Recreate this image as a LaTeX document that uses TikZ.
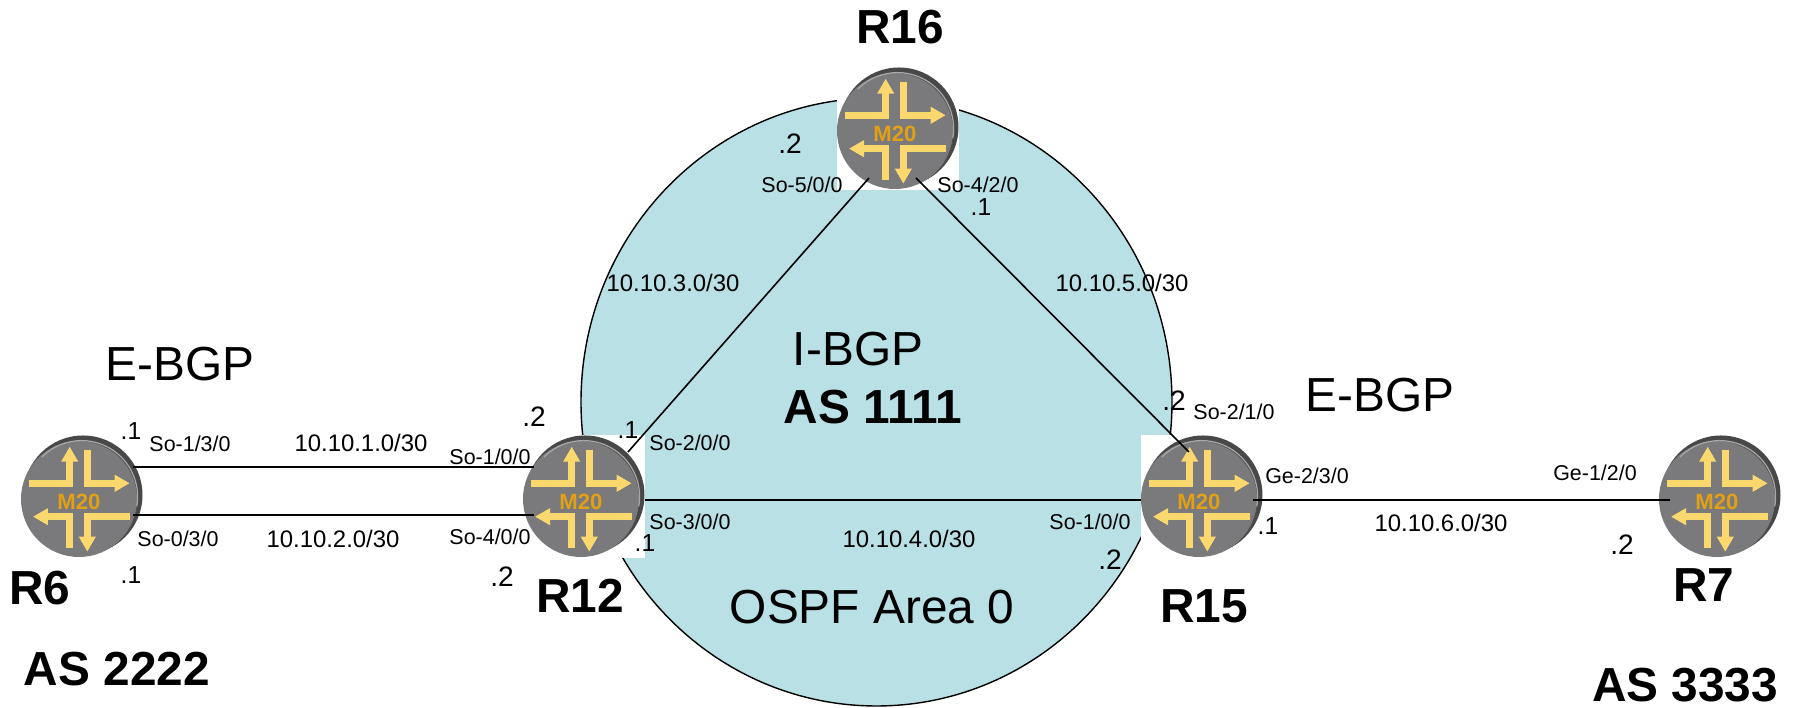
\documentclass[tikz,border=0pt]{standalone}
\usepackage{fontspec}
\setmainfont{Liberation Sans}
\usetikzlibrary{arrows.meta}
\usetikzlibrary{shapes.geometric}

\definecolor{area}{RGB}{185,224,228}
\definecolor{discgray}{RGB}{122,122,124}
\definecolor{discdark}{RGB}{72,72,72}
\definecolor{discrim}{RGB}{168,168,168}
\definecolor{flow}{RGB}{250,216,110}
\definecolor{badge}{RGB}{226,160,20}

\tikzset{
    routerbox/.style={draw=none, fill=white, inner sep=0pt, minimum width=1.22cm, minimum height=1.23cm},
    flowline/.style={line width=0.065cm, color=flow, line join=miter, -{Triangle[length=0.15cm, width=0.16cm]}},
    link/.style={line width=0.016cm, color=black},
    iface/.style={inner sep=0pt, text height=4.4pt, text depth=0pt, font=\fontsize{6.1}{7}\selectfont},
    subnet/.style={inner sep=0pt, text height=4.9pt, text depth=0pt, font=\fontsize{6.8}{8}\selectfont},
    hostone/.style={inner sep=0pt, text height=5pt, text depth=0pt, font=\fontsize{7}{8}\selectfont},
    hosttwo/.style={inner sep=0pt, text height=5.7pt, text depth=0pt, font=\fontsize{8}{9}\selectfont},
    proto/.style={inner sep=0pt, text height=9.7pt, text depth=0pt, font=\fontsize{13.6}{15}\selectfont},
    tagname/.style={inner sep=0pt, text height=9.7pt, text depth=0pt, font=\fontsize{13.6}{15}\selectfont\bfseries},
    pics/m20/.style={code={
        \fill[discdark] (0.01, 0.02) circle (0.595);
        \fill[discgray] (-0.03, -0.02) circle (0.58);
        \draw[line width=0.012cm, color=discrim] (-0.40, 0.40) arc (135:-10:0.56);
        \draw[flowline] (-0.533, 0.137) -- (-0.123, 0.137) -- (-0.123, 0.503);
        \draw[flowline] (0.053, 0.47) -- (0.053, 0.137) -- (0.477, 0.137);
        \draw[flowline] (-0.123, -0.513) -- (-0.123, -0.197) -- (-0.49, -0.197);
        \draw[flowline] (0.477, -0.197) -- (0.053, -0.197) -- (0.053, -0.547);
        \node[inner sep=0pt, color=badge, font=\fontsize{6.3}{7}\selectfont\bfseries] (-badge) at (-0.03, -0.05) {M20};
    }},
}

\begin{document}
\begin{tikzpicture}
    \useasboundingbox (0, 0) rectangle (17.94, 7.08);

    \node[ellipse, draw, fill=area, line width=0.014cm, inner sep=0pt, minimum width=5.91cm, minimum height=6.08cm] (ospf) at (8.765, 3.06) {};

    \node[routerbox] (R6) at (0.82, 2.11) {};
    \node[routerbox] (R12) at (5.84, 2.11) {};
    \node[routerbox] (R15) at (12.02, 2.11) {};
    \node[routerbox] (R7) at (17.20, 2.11) {};
    \node[routerbox] (R16) at (8.98, 5.79) {};
    \pic (R6i) at (R6) {m20};
    \pic (R12i) at (R12) {m20};
    \pic (R15i) at (R15) {m20};
    \pic (R7i) at (R7) {m20};
    \pic (R16i) at (R16) {m20};

    \draw[link] ([shift={(0.51, 0.30)}]R6.center) -- ([shift={(-0.50, 0.30)}]R12.center);
    \draw[link] ([shift={(0.51, -0.18)}]R6.center) -- ([shift={(-0.50, -0.18)}]R12.center);
    \draw[link] ([shift={(0.61, -0.03)}]R12.center) -- ([shift={(-0.61, -0.03)}]R15.center);
    \draw[link] ([shift={(0.51, -0.03)}]R15.center) -- ([shift={(-0.50, -0.03)}]R7.center);
    \draw[link] ([shift={(0.44, 0.45)}]R12.center) -- ([shift={(-0.29, -0.49)}]R16.center);
    \draw[link] ([shift={(0.18, -0.49)}]R16.center) -- ([shift={(-0.13, 0.45)}]R15.center);

    \node[tagname] (nameR6) at (0.40, 1.21) {R6};
    \node[tagname] (nameR12) at (5.80, 1.13) {R12};
    \node[tagname] (nameR15) at (12.04, 1.03) {R15};
    \node[tagname] (nameR7) at (17.04, 1.24) {R7};
    \node[tagname] (nameR16) at (9.00, 6.82) {R16};
    \node[tagname] (as2222) at (1.17, 0.40) {AS 2222};
    \node[tagname] (as1111) at (8.73, 3.02) {AS 1111};
    \node[tagname] (as3333) at (16.85, 0.24) {AS 3333};

    \node[proto] (ebgpleft) at (1.80, 3.45) {E-BGP};
    \node[proto] (ebgpright) at (13.80, 3.14) {E-BGP};
    \node[proto] (ibgp) at (8.58, 3.60) {I-BGP};
    \node[proto] (area0) at (8.72, 1.02) {OSPF Area 0};

    \node[subnet] (net1) at (3.61, 2.65) {10.10.1.0/30};
    \node[subnet] (net2) at (3.33, 1.69) {10.10.2.0/30};
    \node[subnet] (net3) at (6.73, 4.25) {10.10.3.0/30};
    \node[subnet] (net4) at (9.09, 1.69) {10.10.4.0/30};
    \node[subnet] (net5) at (11.22, 4.25) {10.10.5.0/30};
    \node[subnet] (net6) at (14.41, 1.85) {10.10.6.0/30};

    \node[iface] (r6so130) at (1.90, 2.64) {So-1/3/0};
    \node[iface] (r6so030) at (1.78, 1.69) {So-0/3/0};
    \node[iface] (r12so100) at (4.90, 2.51) {So-1/0/0};
    \node[iface] (r12so400) at (4.90, 1.71) {So-4/0/0};
    \node[iface] (r12so200) at (6.90, 2.65) {So-2/0/0};
    \node[iface] (r12so300) at (6.90, 1.86) {So-3/0/0};
    \node[iface] (r15so100) at (10.90, 1.86) {So-1/0/0};
    \node[iface] (r15so210) at (12.34, 2.96) {So-2/1/0};
    \node[iface] (r15ge230) at (13.07, 2.32) {Ge-2/3/0};
    \node[iface] (r7ge120) at (15.95, 2.35) {Ge-1/2/0};
    \node[iface] (r16so500) at (8.02, 5.23) {So-5/0/0};
    \node[iface] (r16so420) at (9.78, 5.23) {So-4/2/0};

    \node[hostone] (r6hosta) at (1.31, 2.77) {.1};
    \node[hostone] (r6hostb) at (1.31, 1.33) {.1};
    \node[hosttwo] (r12hosta) at (5.34, 2.91) {.2};
    \node[hosttwo] (r12hostb) at (5.02, 1.31) {.2};
    \node[hostone] (r12hostc) at (6.28, 2.78) {.1};
    \node[hostone] (r12hostd) at (6.45, 1.65) {.1};
    \node[hosttwo] (r15hosta) at (11.10, 1.48) {.2};
    \node[hosttwo] (r15hostb) at (11.74, 3.07) {.2};
    \node[hostone] (r15hostc) at (12.68, 1.82) {.1};
    \node[hosttwo] (r7host) at (16.22, 1.64) {.2};
    \node[hosttwo] (r16hosta) at (7.90, 5.64) {.2};
    \node[hostone] (r16hostb) at (9.81, 5.01) {.1};
\end{tikzpicture}
\end{document}
